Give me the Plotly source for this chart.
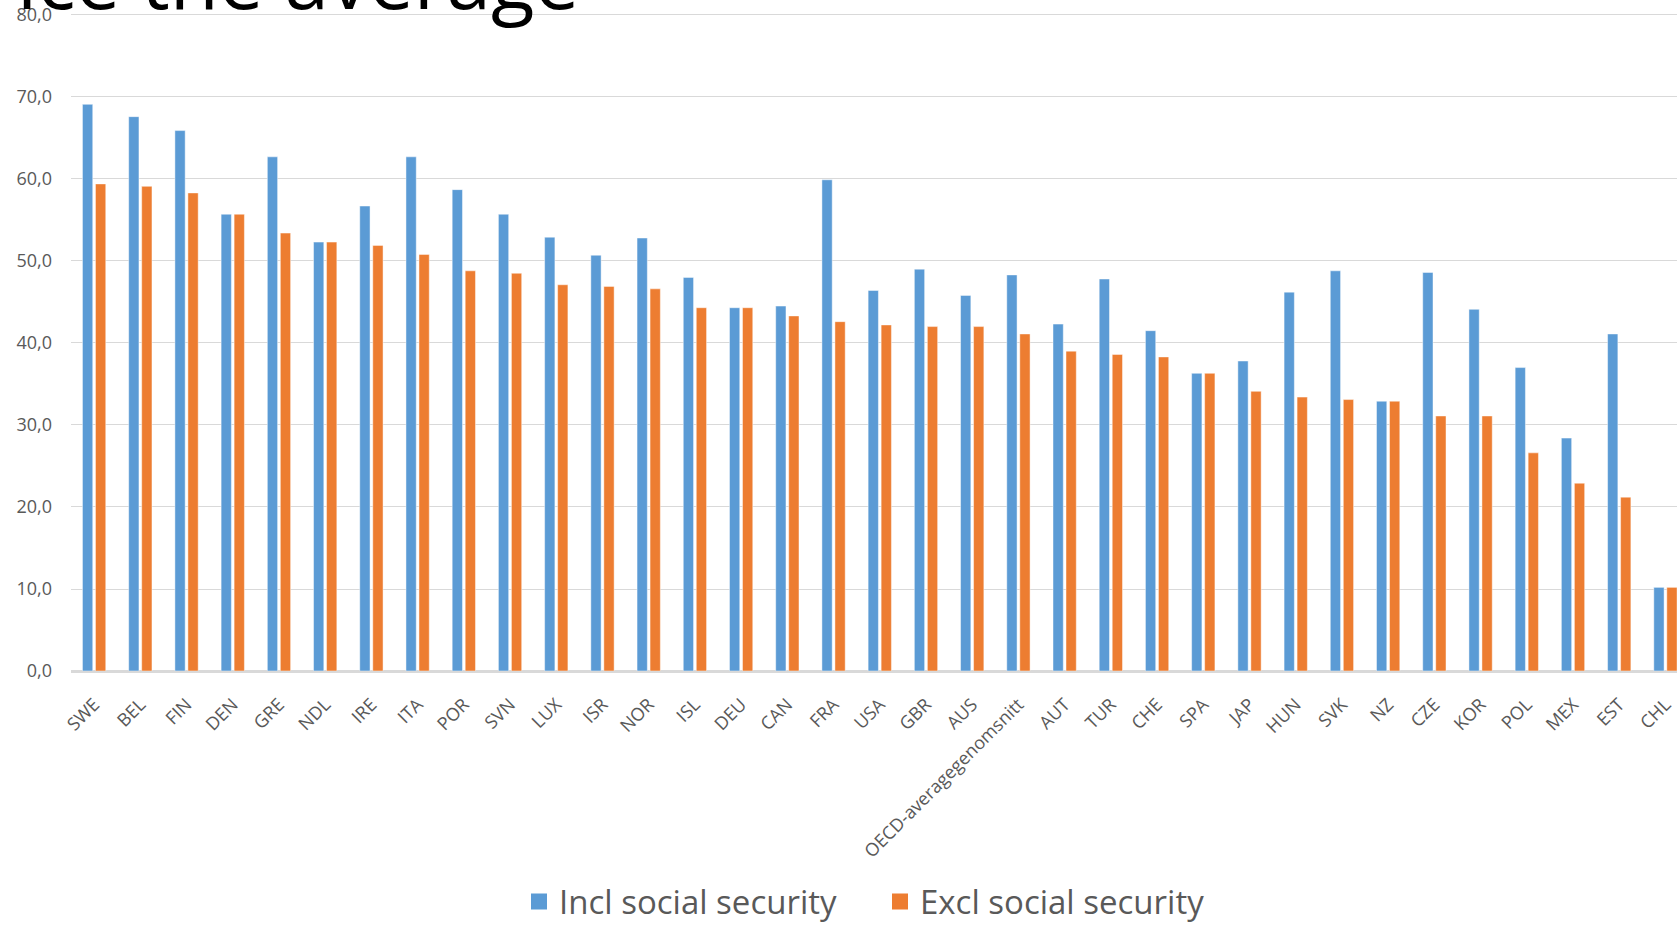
import plotly.graph_objects as go

categories = ["SWE", "BEL", "FIN", "DEN", "GRE", "NDL", "IRE", "ITA", "POR", "SVN",
              "LUX", "ISR", "NOR", "ISL", "DEU", "CAN", "FRA", "USA", "GBR", "AUS",
              "OECD-averagegenomsnitt", "AUT", "TUR", "CHE", "SPA", "JAP", "HUN", "SVK",
              "NZ", "CZE", "KOR", "POL", "MEX", "EST", "CHL"]

incl_social_security = [69.1, 67.6, 65.9, 55.7, 62.7, 52.3, 56.7, 62.7, 58.7, 55.7,
                        52.9, 50.7, 52.8, 48.0, 44.3, 44.5, 59.9, 46.4, 49.0, 45.8,
                        48.3, 42.3, 47.8, 41.5, 36.3, 37.8, 46.2, 48.8,
                        32.9, 48.6, 44.1, 37.0, 28.4, 41.1, 10.2]

excl_social_security = [59.4, 59.1, 58.3, 55.7, 53.4, 52.3, 51.9, 50.8, 48.8, 48.5,
                        47.1, 46.9, 46.6, 44.3, 44.3, 43.3, 42.6, 42.2, 42.0, 42.0,
                        41.1, 39.0, 38.6, 38.3, 36.3, 34.1, 33.4, 33.1,
                        32.9, 31.1, 31.1, 26.6, 22.9, 21.2, 10.2]

series_names = ["Incl social security", "Excl social security"]
y_ticks = [0, 10, 20, 30, 40, 50, 60, 70, 80]

BLUE = "#5B9BD5"
ORANGE = "#ED7D31"
FONT = "Open Sans"

W, H = 1677, 930
ML, MR, MT, MB = 71, 0, 13, 249
plot_h = H - MT - MB

fig = go.Figure()
for name, vals, col in [(series_names[0], incl_social_security, BLUE),
                        (series_names[1], excl_social_security, ORANGE)]:
    fig.add_trace(go.Bar(
        x=categories, y=vals, name=name, legendgroup=name, showlegend=False,
        marker=dict(color=col, line=dict(color="rgba(255,255,255,0.45)", width=1)),
    ))
    # legend proxy (larger square symbol)
    fig.add_trace(go.Scatter(
        x=[None], y=[None], mode="markers", name=name, legendgroup=name,
        marker=dict(symbol="square", size=21, color=col),
        hoverinfo="skip",
    ))

fig.update_layout(
    width=W, height=H,
    margin=dict(l=ML, r=MR, t=MT, b=MB, pad=0),
    paper_bgcolor="white", plot_bgcolor="white",
    separators=", ",
    barmode="group", bargap=0.437, bargroupgap=0.21,
    font=dict(family=FONT, color="#595959", size=18),
    legend=dict(
        orientation="h", xanchor="center", yanchor="middle",
        x=(880 - ML) / (W - ML - MR), y=1 - (915 - MT) / plot_h,
        font=dict(size=33, color="#595959", family=FONT),
        entrywidth=316, itemsizing="trace",
        bgcolor="rgba(0,0,0,0)",
    ),
    xaxis=dict(
        type="category", range=[-0.5, 34.25], tickangle=-45,
        tickfont=dict(size=18, color="#595959"), showgrid=False,
        showline=True, linecolor="#d9d9d9", linewidth=2,
        ticks="", ticklabelstandoff=14, automargin=False, fixedrange=True,
    ),
    yaxis=dict(
        range=[0, 80.24], tickvals=y_ticks, tickformat=".1f",
        tickfont=dict(size=18, color="#595959"),
        showgrid=True, gridcolor="#d9d9d9", gridwidth=1,
        zeroline=True, zerolinecolor="#d9d9d9", zerolinewidth=2,
        ticks="", ticklabelstandoff=18, automargin=False, fixedrange=True,
    ),
)

fig.add_annotation(
    text="ice the average", xref="paper", yref="paper",
    x=(15 - ML) / (W - ML - MR), y=1 - (34 - MT) / plot_h,
    xanchor="left", yanchor="bottom", showarrow=False,
    font=dict(family=FONT, size=80, color="black"),
)

fig.write_html("out.html")
